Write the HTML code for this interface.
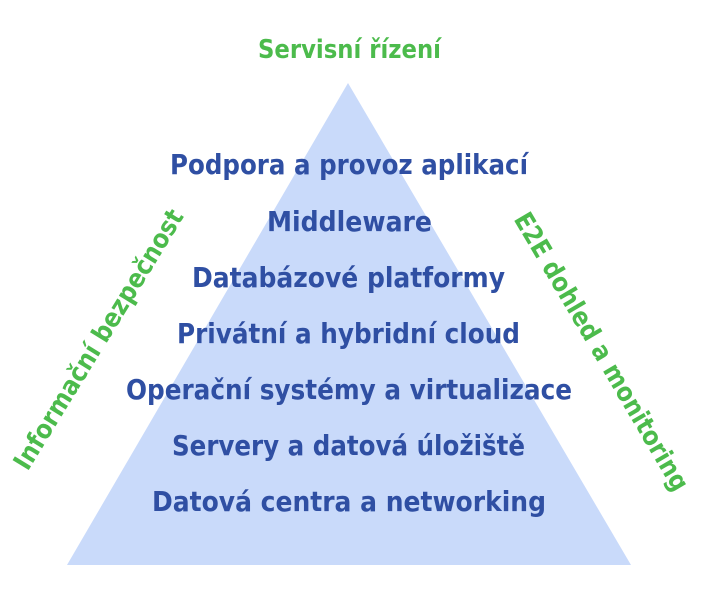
<!DOCTYPE html>
<html><head><meta charset="utf-8"><style>html,body{margin:0;padding:0;background:#fff}svg{display:block}</style></head>
<body>
<svg width="701" height="602" xmlns="http://www.w3.org/2000/svg" font-family="'DejaVu Sans','Liberation Sans',sans-serif">
<polygon points="348,83 67,565 631,565" fill="#c9dafa"/>
<text x="349.5" y="58" font-size="26" font-weight="bold" fill="#4cbb4c" text-anchor="middle" textLength="183" lengthAdjust="spacingAndGlyphs">Servisní řízení</text>
<g font-size="28" font-weight="bold" fill="#2f4fa3" text-anchor="middle">
<text x="349" y="174" textLength="358" lengthAdjust="spacingAndGlyphs">Podpora a provoz aplikací</text>
<text x="349.5" y="231" textLength="165" lengthAdjust="spacingAndGlyphs">Middleware</text>
<text x="348.5" y="287" textLength="313" lengthAdjust="spacingAndGlyphs">Databázové platformy</text>
<text x="348.5" y="343" textLength="343" lengthAdjust="spacingAndGlyphs">Privátní a hybridní cloud</text>
<text x="349" y="399" textLength="446" lengthAdjust="spacingAndGlyphs">Operační systémy a virtualizace</text>
<text x="348.5" y="455" textLength="353" lengthAdjust="spacingAndGlyphs">Servery a datová úložiště</text>
<text x="349" y="511" textLength="394" lengthAdjust="spacingAndGlyphs">Datová centra a networking</text>
</g>
<text transform="translate(106,344) rotate(-58.5)" font-size="26" font-weight="bold" fill="#4cbb4c" text-anchor="middle" textLength="300" lengthAdjust="spacingAndGlyphs">Informační bezpečnost</text>
<text transform="translate(594,356) rotate(59.5)" font-size="26" font-weight="bold" fill="#4cbb4c" text-anchor="middle" textLength="318" lengthAdjust="spacingAndGlyphs">E2E dohled a monitoring</text>
</svg>
</body></html>
